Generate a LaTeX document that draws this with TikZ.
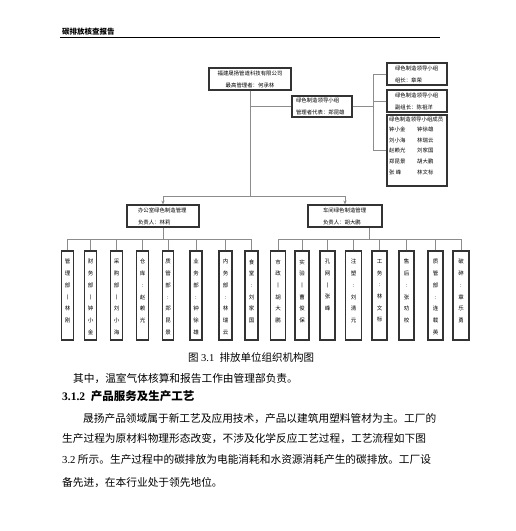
\documentclass[tikz,border=0pt]{standalone}
\usepackage{fontspec}
\setmainfont{Liberation Serif}
\newfontfamily\cjk{Noto Sans CJK SC}
\usetikzlibrary{calc,arrows.meta}
\begin{document}
\begin{tikzpicture}[x=1pt,y=-1pt,
  box/.style={draw=black!80, line width=1.1pt, inner sep=0pt},
  conn/.style={draw=black!45, line width=0.7pt},
  arr/.style={conn, -{Stealth[length=4pt,width=3.2pt]}},
  small/.style={font=\cjk\fontsize{5.4}{12}\selectfont, inner sep=0pt},
  vbox/.style={box, minimum height=89pt},
  vtxt/.style={font=\cjk\fontsize{5.5}{11.7}\selectfont, inner sep=0pt, align=center, anchor=north},
  body/.style={font=\cjk\fontsize{10.7}{12}\selectfont, inner sep=0pt, anchor=base west}
]
\useasboundingbox[fill=white] (0,0) rectangle (515,531);

% header
\node[anchor=base west, font=\cjk\bfseries\fontsize{7.5}{9}\selectfont, inner sep=0pt] (hdr) at (62,34.5) {碳排放核查报告};
\draw[line width=0.9pt] (60,37.5) -- (440,37.5);

% top level
\node[box, small, align=center, minimum width=82pt, minimum height=22pt] (top) at (250,79)
  {福建晟扬管道科技有限公司\\最高管理者：何承林};
\node[box, small, align=left, text width=52pt, minimum width=60pt, minimum height=21pt] (grp) at (322,106.5)
  {\fontsize{5.4}{13}\selectfont 绿色制造领导小组\\管理者代表：郑昆雄};

% right group boxes
\node[box, small, align=left, text width=44pt, minimum width=60pt, minimum height=22pt] (r1) at (417,74)
  {绿色制造领导小组\\组长：章荣};
\node[box, small, align=left, text width=44pt, minimum width=60pt, minimum height=22pt] (r2) at (417,101)
  {绿色制造领导小组\\副组长：陈祖洋};
\node[box, minimum width=60pt, minimum height=71pt] (r3) at (417,150.5) {};
\node[small, anchor=north west, align=left, font=\cjk\fontsize{5.4}{10.6}\selectfont] (r3t) at (389,116.3)
  {绿色制造领导小组成员\\
   \makebox[28pt][l]{钟小金}钟徐雄\\
   \makebox[28pt][l]{刘小海}林瑞云\\
   \makebox[28pt][l]{赵赖光}刘家国\\
   \makebox[28pt][l]{郑昆景}胡大鹏\\
   \makebox[28pt][l]{张\ 峰}林文标};

\coordinate (br) at (373,105);
\draw[conn] (grp.east) -- (grp.east -| br);
\draw[conn] (r1.west) -- (r1.west -| br) -- (r3.west -| br) -- (r3.west);
\draw[conn] (r2.west) -- (r2.west -| br);

% middle level
\node[box, small, align=left, text width=50pt, minimum width=72pt, minimum height=22pt] (mL) at (163,216)
  {办公室绿色制造管理\\负责人：林莉};
\node[box, small, align=left, text width=44pt, minimum width=74pt, minimum height=22pt] (mR) at (345,216)
  {车间绿色制造管理\\负责人：胡大鹏};

\coordinate (mbar) at (250,196);
\draw[conn] (top.south) -- (top.south |- mbar);
\draw[conn] (grp.west) -- (grp.west -| top.south);
\draw[conn] (mL.north |- mbar) -- (mR.north |- mbar);
\draw[arr] (mL.north |- mbar) -- (mL.north);
\draw[arr] (mR.north |- mbar) -- (mR.north);

% bottom boxes
\foreach \n/\x/\w/\t in {
  b1/67.5/12/{管\\理\\部\\丨\\林\\刚},
  b2/90.5/12/{财\\务\\部\\丨\\钟\\小\\金},
  b3/116.5/12/{采\\购\\部\\丨\\刘\\小\\海},
  b4/142.5/12/{仓\\库\\:\\赵\\赖\\光},
  b5/168/11/{质\\管\\部\\:\\郑\\昆\\景},
  b6/196/12/{业\\务\\部\\:\\钟\\徐\\雄},
  b7/225.5/13/{内\\务\\部\\:\\林\\瑞\\云},
  b8/251.5/13/{食\\堂\\:\\刘\\家\\国},
  c1/278/15/{市\\政\\丨\\胡\\大\\鹏},
  c2/302/14/{实\\验\\丨\\曹\\俊\\保},
  c3/327.5/15/{孔\\网\\丨\\张\\峰},
  c4/353.5/16/{注\\塑\\:\\刘\\清\\元},
  c5/379.5/15/{工\\务\\:\\林\\文\\标},
  c6/406.5/15/{售\\后\\:\\张\\劝\\校},
  c7/435.5/15/{质\\管\\部\\:\\连\\载\\英},
  c8/461/16/{破\\碎\\:\\章\\乐\\勇}}
{
  \node[vbox, minimum width=\w pt] (\n) at (\x,295.5) {};
  \node[vtxt] at ($(\n.north)+(0,8.7)$) {\t};
}

\coordinate (lbar) at (163,239);
\coordinate (rbar) at (369,239);
\draw[conn] (mL.south) -- (lbar);
\draw[conn] (mR.south -| rbar) -- (rbar);
\draw[conn] (b1.north) -- (b1.north |- lbar) -- (b8.north |- lbar) -- (b8.north);
\foreach \i in {2,...,7} \draw[conn] (b\i.north) -- (b\i.north |- lbar);
\draw[conn] (c1.north) -- (c1.north |- rbar) -- (c8.north |- rbar) -- (c8.north);
\foreach \i in {2,...,7} \draw[conn] (c\i.north) -- (c\i.north |- rbar);

% caption and text
\node[inner sep=0pt, anchor=base, font=\fontsize{10.5}{12}\selectfont] (cap) at (251,361)
  {{\cjk 图} 3.1\ \ {\cjk 排放单位组织机构图}};
\node[body] (p0) at (73,382) {其中，温室气体核算和报告工作由管理部负责。};
\node[inner sep=0pt, anchor=base west, font=\bfseries\fontsize{11.5}{13}\selectfont] (h1) at (62,400.5)
  {3.1.2\ \ {\cjk\bfseries 产品服务及生产工艺}};
\node[body] (p1) at (83,422) {晟扬产品领域属于新工艺及应用技术，产品以建筑用塑料管材为主。工厂的};
\node[body] (p2) at (62,442.5) {生产过程为原材料物理形态改变，不涉及化学反应工艺过程，工艺流程如下图};
\node[body] (p3) at (62,463.5) {{\rmfamily 3.2} 所示。生产过程中的碳排放为电能消耗和水资源消耗产生的碳排放。工厂设};
\node[body] (p4) at (62,486) {备先进，在本行业处于领先地位。};
\end{tikzpicture}
\end{document}
